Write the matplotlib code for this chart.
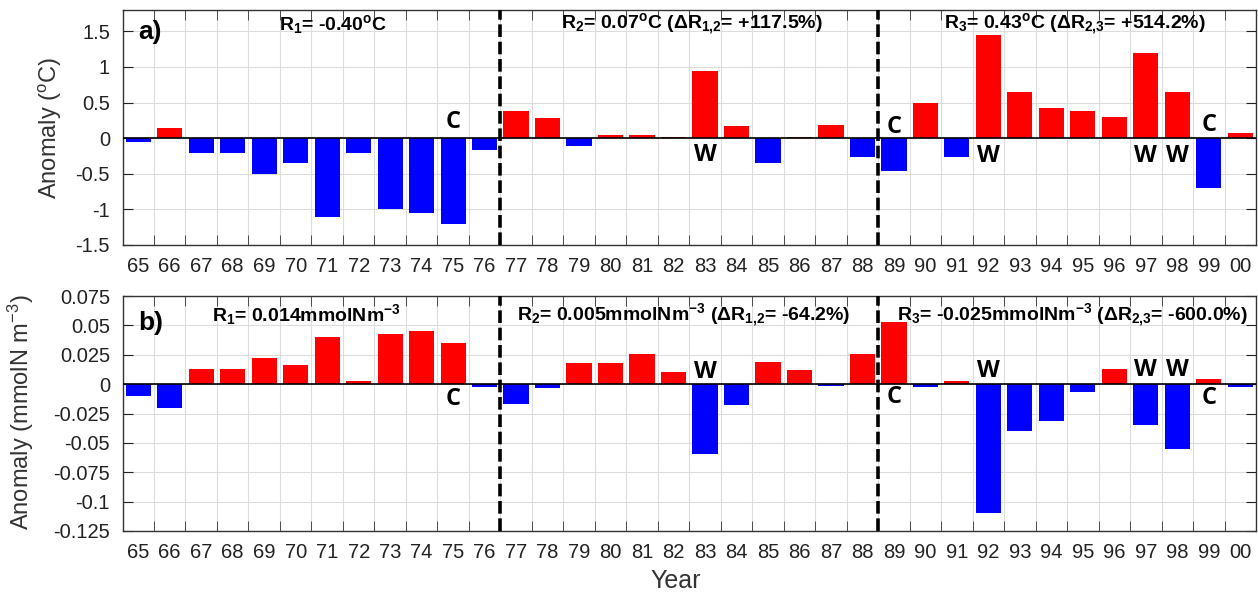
import matplotlib as mpl
import matplotlib.pyplot as plt
import numpy as np

mpl.rcParams.update({
    "font.family": ["Liberation Sans", "DejaVu Sans"],
    "mathtext.fontset": "custom",
    "mathtext.rm": "Liberation Sans",
    "mathtext.bf": "Liberation Sans:bold",
})

NARROW = ["Liberation Sans Narrow", "Liberation Sans", "DejaVu Sans"]
LETTER = ["Open Sans", "Lato", "DejaVu Sans"]

years = ["65", "66", "67", "68", "69", "70", "71", "72", "73", "74", "75", "76",
         "77", "78", "79", "80", "81", "82", "83", "84", "85", "86", "87", "88",
         "89", "90", "91", "92", "93", "94", "95", "96", "97", "98", "99", "00"]

# a) temperature anomaly (degC)
temp = [-0.05, 0.14, -0.21, -0.21, -0.50, -0.355, -1.105, -0.21, -1.0, -1.055, -1.2, -0.17,
        0.375, 0.277, -0.105, 0.048, 0.048, 0.015, 0.94, 0.17, -0.355, 0.02, 0.19, -0.258,
        -0.455, 0.50, -0.258, 1.446, 0.644, 0.42, 0.376, 0.296, 1.19, 0.644, -0.704, 0.066]

# b) nitrogen anomaly (mmolN m-3)
nitro = [-0.0097, -0.0207, 0.0125, 0.0125, 0.022, 0.016, 0.040, 0.0026, 0.0429, 0.0455, 0.0352, -0.0023,
         -0.017, -0.003, 0.0176, 0.0176, 0.0253, 0.0102, -0.0597, -0.0176, 0.0185, 0.0122, -0.002, 0.0253,
         0.0528, -0.0023, 0.0028, -0.1097, -0.0395, -0.0318, -0.0071, 0.0125, -0.035, -0.0548, 0.0043, -0.0028]

# El Nino (W) / La Nina (C) markers: (year index, letter, y position)
marks_a = [(10, "C", 0.225), (18, "W", -0.24), (24, "C", 0.155), (27, "W", -0.25),
           (32, "W", -0.25), (33, "W", -0.25), (34, "C", 0.19)]
marks_b = [(10, "C", -0.0125), (18, "W", 0.010), (24, "C", -0.011), (27, "W", 0.0114),
           (32, "W", 0.012), (33, "W", 0.012), (34, "C", -0.0119)]

regime_breaks = [12.5, 24.5]

yt_a = [-1.5, -1, -0.5, 0, 0.5, 1, 1.5]
ytl_a = ["-1.5", "-1", "-0.5", "0", "0.5", "1", "1.5"]
yt_b = [-0.125, -0.1, -0.075, -0.05, -0.025, 0, 0.025, 0.05, 0.075]
ytl_b = ["-0.125", "-0.1", "-0.075", "-0.05", "-0.025", "0", "0.025", "0.05", "0.075"]

SUB12 = r"$\mathregular{_{1{,}2}}$"
SUB23 = r"$\mathregular{_{2{,}3}}$"
text_a = [(7.18, r"R$\mathregular{_1}$= -0.40$\mathregular{^o}$C"),
          (18.58, r"R$\mathregular{_2}$= 0.07$\mathregular{^o}$C (ΔR" + SUB12 + "= +117.5%)"),
          (30.74, r"R$\mathregular{_3}$= 0.43$\mathregular{^o}$C (ΔR" + SUB23 + "= +514.2%)")]
text_b = [(6.35, r"R$\mathregular{_1}$= 0.014mmolNm$\mathregular{^{-3}}$"),
          (18.33, r"R$\mathregular{_2}$= 0.005mmolNm$\mathregular{^{-3}}$ (ΔR" + SUB12 + "= -64.2%)"),
          (30.66, r"R$\mathregular{_3}$= -0.025mmolNm$\mathregular{^{-3}}$ (ΔR" + SUB23 + "= -600.0%)")]

W, H = 1258, 595
fig = plt.figure(figsize=(W / 100, H / 100), dpi=100)
ax_a = fig.add_axes([122.5 / W, 1 - 245 / H, 1133.5 / W, 235 / H])
ax_b = fig.add_axes([122.5 / W, 1 - 531 / H, 1133.5 / W, 235 / H])

x = np.arange(1, len(years) + 1)


def style(ax, vals, ylim, yt, ytl, texts, marks, label, ty):
    cols = ["#ff0000" if v > 0 else "#0000ff" for v in vals]
    ax.bar(x, vals, width=0.8, color=cols, linewidth=0, zorder=2)
    ax.axhline(0, color="black", lw=1.2, zorder=3)
    for xb in regime_breaks:
        ax.axvline(xb, color="black", lw=2.6, ls=(0, (3.5, 1.3)), zorder=4)
    ax.set_xlim(0.5, len(years) + 0.5)
    ax.set_ylim(*ylim)
    ax.set_xticks(x)
    ax.set_xticklabels(years)
    ax.set_xticks(x[:-1] + 0.5, minor=True)
    ax.set_yticks(yt)
    ax.set_yticklabels(ytl)
    ax.tick_params(axis="x", which="major", length=0, pad=9, labelsize=14.5, colors="#222222")
    ax.tick_params(axis="x", which="minor", direction="in", length=7, top=True, bottom=True,
                   color="#333333")
    ax.tick_params(axis="y", direction="in", length=7, left=True, right=True, pad=9,
                   labelsize=14.5, colors="#222222")
    for lab in ax.get_xticklabels() + ax.get_yticklabels():
        lab.set_family(NARROW)
    ax.grid(True, which="minor", axis="x", color="#dddddd", lw=0.8, zorder=0)
    ax.grid(True, which="major", axis="y", color="#dddddd", lw=0.8, zorder=0)
    ax.set_axisbelow(True)
    for s in ax.spines.values():
        s.set_color("#333333")
        s.set_linewidth(1.0)
    for xt, t in texts:
        ax.text(xt, ty, t, transform=ax.get_xaxis_transform(), ha="center", va="center",
                fontsize=14, fontweight="bold", family=NARROW, zorder=5)
    for i, ch, yv in marks:
        ax.text(x[i], yv, ch, ha="center", va="center", fontsize=17, fontweight="bold",
                family=LETTER, zorder=5)
    ax.text(0.014, ty - 0.035, label, transform=ax.transAxes, ha="left", va="center",
            fontsize=19, fontweight="bold", family=NARROW, zorder=5)


style(ax_a, temp, (-1.5, 1.8), yt_a, ytl_a, text_a, marks_a, "a)", 0.94)
style(ax_b, nitro, (-0.125, 0.075), yt_b, ytl_b, text_b, marks_b, "b)", 0.92)

fig.text(50 / W, 1 - 128 / H, "Anomaly ($\\mathregular{^o}$C)", rotation=90, ha="center",
         va="center", fontsize=17, color="#333333")
fig.text(21 / W, 1 - 412 / H, "Anomaly (mmolN m$\\mathregular{^{-3}}$)", rotation=90,
         ha="center", va="center", fontsize=17, color="#333333")
fig.text(676 / W, 1 - 581 / H, "Year", ha="center", va="center", fontsize=18, color="#333333")

fig.savefig("out.png", dpi=100)
